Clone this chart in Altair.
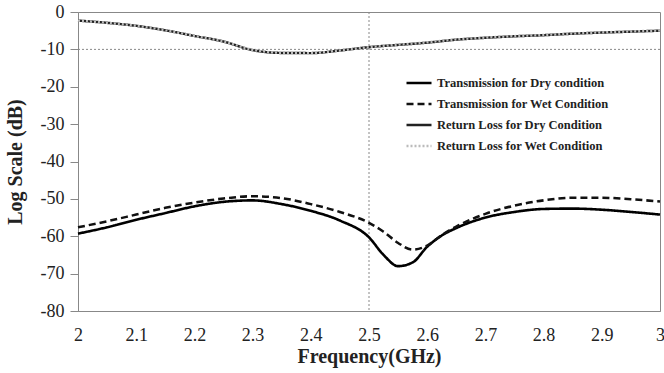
import altair as alt
import pandas as pd

# ---- data ----
freq_t = [2.00, 2.05, 2.10, 2.15, 2.20, 2.25, 2.30, 2.35, 2.40, 2.45, 2.50, 2.525,
          2.55, 2.575, 2.60, 2.625, 2.65, 2.70, 2.75, 2.80, 2.85, 2.90, 2.95, 3.00]
trans_dry = [-59.3, -57.6, -55.6, -53.8, -52.0, -50.8, -50.4, -51.4, -53.2, -55.8, -60.3, -65.0,
             -68.0, -67.0, -62.8, -59.8, -57.8, -55.0, -53.5, -52.7, -52.6, -52.9, -53.5, -54.2]
trans_wet = [-57.6, -56.0, -54.2, -52.4, -51.0, -49.9, -49.3, -49.8, -51.4, -53.5, -56.4, -58.8,
             -61.8, -63.6, -62.5, -59.7, -57.4, -54.0, -51.8, -50.4, -49.7, -49.7, -50.1, -50.7]

freq_r = [2.00, 2.05, 2.10, 2.15, 2.20, 2.25, 2.30, 2.35, 2.40, 2.45, 2.50,
          2.55, 2.60, 2.65, 2.70, 2.75, 2.80, 2.85, 2.90, 2.95, 3.00]
rl_dry = [-2.3, -2.9, -3.7, -4.9, -6.4, -7.9, -10.2, -10.95, -11.0, -10.3, -9.4,
          -8.8, -8.2, -7.4, -6.9, -6.5, -6.2, -5.8, -5.5, -5.25, -5.0]
rl_wet = [-2.3, -2.9, -3.7, -4.9, -6.4, -7.9, -10.1, -10.9, -10.95, -10.3, -9.4,
          -8.75, -8.1, -7.35, -6.85, -6.45, -6.15, -5.75, -5.45, -5.2, -4.95]

series_names = ["Transmission for Dry condition", "Transmission for Wet Condition",
                "Return Loss for Dry Condition", "Return Loss for Wet Condition"]

ref_x = [2.5]
ref_y = [-10]

x_ticks = [2.0, 2.1, 2.2, 2.3, 2.4, 2.5, 2.6, 2.7, 2.8, 2.9, 3.0]
y_ticks = [0, -10, -20, -30, -40, -50, -60, -70, -80]

# ---- build table ----
rows = []
for f, v in zip(freq_t, trans_dry):
    rows.append({"f": f, "v": v, "s": series_names[0]})
for f, v in zip(freq_t, trans_wet):
    rows.append({"f": f, "v": v, "s": series_names[1]})
for f, v in zip(freq_r, rl_dry):
    rows.append({"f": f, "v": v, "s": series_names[2]})
for f, v in zip(freq_r, rl_wet):
    rows.append({"f": f, "v": v, "s": series_names[3]})
df = pd.DataFrame(rows)

FONT = "Liberation Serif"

xscale = alt.Scale(domain=[2, 3], nice=False, zero=False)
yscale = alt.Scale(domain=[-80, 0], nice=False, zero=False)

xaxis = alt.Axis(title="Frequency(GHz)", values=x_ticks,
                 labelExpr="toString(datum.value)",
                 ticks=False, grid=False, domainColor="#888",
                 labelFont=FONT, labelFontSize=18, labelColor="#222",
                 labelPadding=15, labelFlush=False, labelOverlap=False,
                 titleFont=FONT, titleFontSize=20, titleFontWeight="bold",
                 titleColor="#222", titlePadding=2)
yaxis = alt.Axis(title="Log Scale (dB)", values=y_ticks, grid=False,
                 labelExpr="toString(datum.value)",
                 domainColor="#888", tickColor="#888", tickSize=8,
                 labelFont=FONT, labelFontSize=18, labelColor="#222",
                 labelPadding=6, labelOverlap=False,
                 titleFont=FONT, titleFontSize=20, titleFontWeight="bold",
                 titleColor="#222", titlePadding=15)

legend = alt.Legend(
    title=None, orient="none", legendX=327, legendY=57,
    symbolType="stroke", symbolSize=625, labelFont=FONT, labelFontWeight="bold",
    labelFontSize=12.5, labelColor="#222", rowPadding=-8, labelOffset=4,
    labelLimit=400,
)

vref = alt.Chart(pd.DataFrame({"f": ref_x})).mark_rule(
    color="#888", strokeWidth=1, strokeDash=[2, 2]
).encode(x=alt.X("f:Q", scale=xscale, axis=xaxis))

href = alt.Chart(pd.DataFrame({"v": ref_y})).mark_rule(
    color="#888", strokeWidth=1, strokeDash=[2, 2]
).encode(y=alt.Y("v:Q", scale=yscale, axis=yaxis))

lines = alt.Chart(df).mark_line(interpolate="monotone").encode(
    x=alt.X("f:Q", scale=xscale, axis=xaxis),
    y=alt.Y("v:Q", scale=yscale, axis=yaxis),
    color=alt.Color("s:N", sort=series_names,
                    scale=alt.Scale(domain=series_names,
                                    range=["#000", "#111", "#222", "#bbb"]),
                    legend=legend),
    strokeDash=alt.StrokeDash("s:N", sort=series_names,
                              scale=alt.Scale(domain=series_names,
                                              range=[[1, 0], [7, 4], [1, 0], [2, 2]]),
                              legend=legend),
    strokeWidth=alt.StrokeWidth("s:N", sort=series_names,
                                scale=alt.Scale(domain=series_names,
                                                range=[2.6, 2.4, 0.9, 0.8]),
                                legend=legend),
    order=alt.Order("f:Q"),
)

chart = alt.layer(vref, href, lines).properties(
    width=582, height=299,
    padding={"left": 78, "top": 12, "right": 4, "bottom": 62},
    autosize=alt.AutoSizeParams(type="none"),
    background="white",
).configure_view(stroke="#888", strokeWidth=1)

chart.save("out.html", embed_options={"renderer": "svg", "actions": False})
